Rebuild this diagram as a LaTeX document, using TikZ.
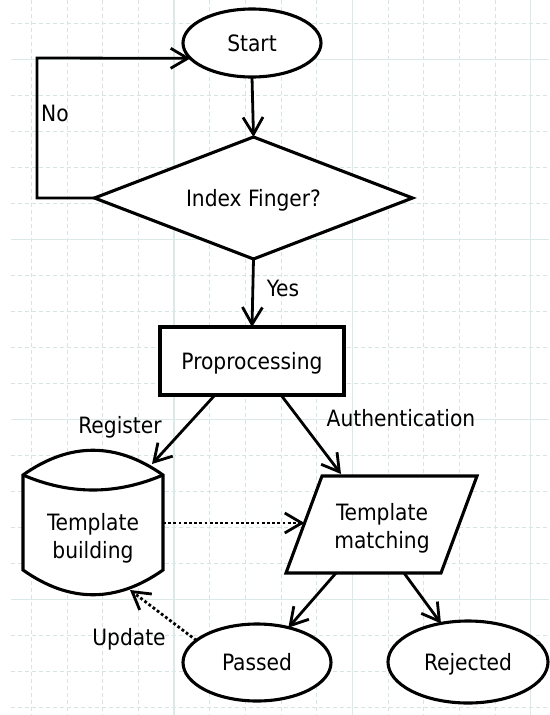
\documentclass[tikz,border=0pt]{standalone}
\usepackage{fontspec}
\setmainfont{DejaVu Sans Condensed}
\usetikzlibrary{shapes.geometric,arrows.meta,calc}
\definecolor{gridmin}{RGB}{214,228,228}
\definecolor{gridmaj}{RGB}{220,233,233}
\begin{document}
\begin{tikzpicture}[x=1pt,y=-1pt,
  shp/.style={draw=black, line width=3.1pt, fill=white, inner sep=0pt, outer sep=0pt},
  txt/.style={font=\fontsize{22.5}{28}\selectfont, inner sep=0pt, text height=16.4pt, text depth=0pt},
  txttwo/.style={font=\fontsize{22.5}{28}\selectfont, inner sep=0pt, align=center},
  arr/.style={line width=2.8pt, -{Straight Barb[length=17pt,width=20pt,line width=2.8pt]}},
  dots/.style={arr, dash pattern=on 2.8pt off 2.4pt},
  gmin/.style={draw=gridmin, line width=1pt, dash pattern=on 4pt off 3pt},
  gmaj/.style={draw=gridmaj, line width=1.4pt}
]
\useasboundingbox (0,0) rectangle (549,715);
\fill[white] (0,0) rectangle (549,715);
% grid
\foreach \k in {0,...,14} \draw[gmin] ({31.5+35.66*\k},0) -- ({31.5+35.66*\k},715);
\foreach \k in {0,...,19} \draw[gmin] (11,{23.3+36*\k}) -- (549,{23.3+36*\k});
\foreach \gx in {174.1,352.4,530.7} \draw[gmaj] (\gx,0) -- (\gx,715);
\foreach \gy in {59.3,239.3,419.3,599.3} \draw[gmaj] (11,\gy) -- (549,\gy);

% shapes
\node[shp, txt, ellipse, minimum width=138pt, minimum height=68pt] (start) at (252,43) {Start};
\node[shp, txt, diamond, aspect=2.6, minimum width=318pt, minimum height=122pt] (dec) at (253.5,198) {Index Finger?};
\node[shp, txt, minimum width=184pt, minimum height=68pt] (proc) at (252,361) {Proprocessing};
\draw[shp] (23,475) -- (23,570) .. controls (69.7,603) and (116.3,603) .. (163,570) -- (163,475) .. controls (116.3,442) and (69.7,442) .. cycle;
\draw[shp, fill=none] (23,475) .. controls (69.7,495) and (116.3,495) .. (163,475);
\node[txttwo] (db) at (93,538) {Template\\building};
\draw[shp] (286,573) -- (322,476) -- (477,476) -- (441,573) -- cycle;
\node[txttwo] (match) at (382,528.5) {Template\\matching};
\node[shp, txt, ellipse, minimum width=148pt, minimum height=77pt] (passed) at (257,662.5) {Passed};
\node[shp, txt, ellipse, minimum width=160pt, minimum height=82pt] (rej) at (468,662) {Rejected};

% connector points
\coordinate (nocorner) at (37,58);
\coordinate (dbin) at (152,464);
\coordinate (matchin) at (341,474);
\coordinate (dbR) at (163,523);
\coordinate (matchL) at (304.5,523);
\coordinate (mB1) at (336,573);
\coordinate (mB2) at (404,573);
\coordinate (dbB) at (130,590);

% connectors
\draw[arr] (start.south) -- (dec.north);
\draw[arr] (dec.west) -| (nocorner) -- (start.194);
\draw[arr] (dec.south) -- (proc.north);
\draw[arr] ($(proc.south)+(-37,0)$) -- (dbin);
\draw[arr] ($(proc.south)+(29,0)$) -- (matchin);
\draw[dots] (dbR) -- (matchL);
\draw[arr] (mB1) -- (passed.48);
\draw[arr] (mB2) -- (rej.125);
\draw[dots] (passed.160) -- (dbB);

% labels
\node[txt] (lno) at (55,113) {No};
\node[txt] (lyes) at (283,288) {Yes};
\node[txt] (lreg) at (120,425) {Register};
\node[txt] (lauth) at (401,418) {Authentication};
\node[txt] (lupd) at (129,637) {Update};
\end{tikzpicture}
\end{document}
